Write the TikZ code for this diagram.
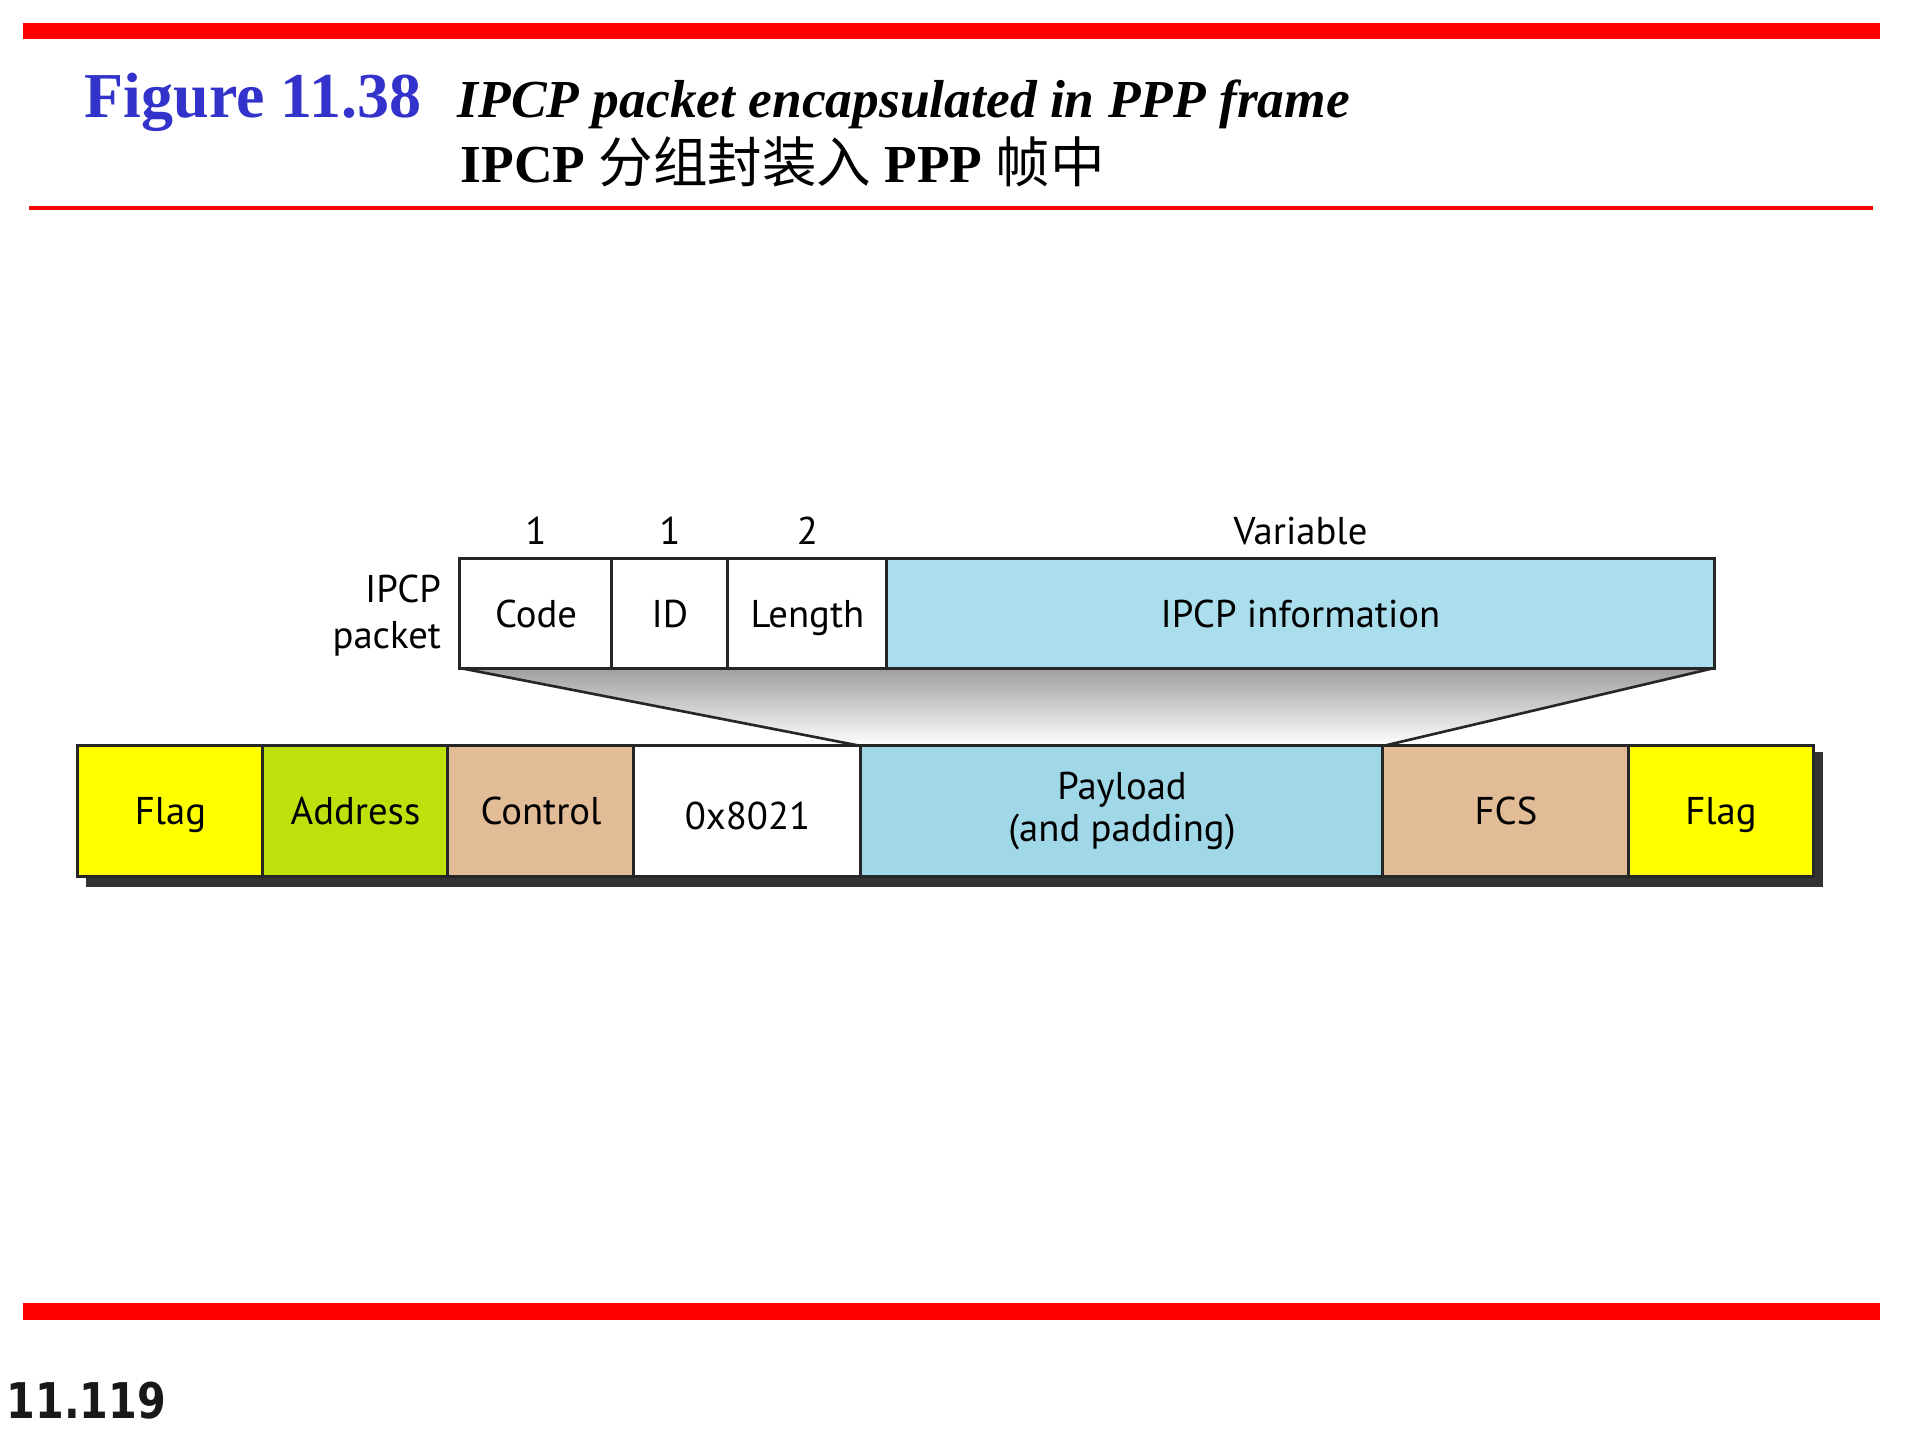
\documentclass[tikz,border=0pt]{standalone}
\usepackage{fontspec}
\setmainfont{Liberation Serif}
\newfontfamily\lbl{PT Sans}
\newfontfamily\cjk{Noto Sans CJK SC}
\newfontfamily\pgnum{DejaVu Sans}
\usetikzlibrary{backgrounds}
\definecolor{figblue}{RGB}{51,51,204}
\definecolor{flagy}{RGB}{255,255,0}
\definecolor{addrg}{RGB}{192,224,14}
\definecolor{tanc}{RGB}{226,188,150}
\definecolor{infob}{RGB}{170,222,236}
\definecolor{payb}{RGB}{160,216,232}
\definecolor{edgec}{RGB}{38,38,38}
\definecolor{shadowc}{RGB}{51,51,51}
\tikzset{
  lblfont/.style={font=\lbl\fontsize{11pt}{13pt}\selectfont},
  cell/.style={draw=edgec, line width=0.85pt, rectangle, inner sep=0pt, outer sep=0pt,
    lblfont, text height=7.7pt, text depth=0pt},
  upcell/.style={cell, minimum height=1.09cm},
  lowcell/.style={cell, minimum height=1.30cm},
  lbltext/.style={lblfont, inner sep=0pt, outer sep=0pt},
  slant/.style={draw=edgec, line width=0.75pt},
}
\begin{document}
\begin{tikzpicture}[x=0.01cm,y=-0.01cm]
\useasboundingbox (0,0) rectangle (1920,1440);
% red rules
\fill[red] (23,23) rectangle (1880,39);
\fill[red] (29,206) rectangle (1873,210);
\fill[red] (23,1303) rectangle (1880,1320);
% title
\node[anchor=base west, inner sep=0pt, text=figblue, font=\bfseries\fontsize{18.2pt}{20pt}\selectfont] (fig) at (84,118) {Figure 11.38};
\node[anchor=base west, inner sep=0pt, font=\bfseries\itshape\fontsize{15.2pt}{18pt}\selectfont] (ten) at (457,118) {IPCP packet encapsulated in PPP frame};
\node[anchor=base west, inner sep=0pt, font=\bfseries\fontsize{15.2pt}{18pt}\selectfont] (tzh) at (460,183) {IPCP {\cjk\mdseries\fontsize{15.5pt}{18pt}\selectfont 分组封装入} PPP {\cjk\mdseries\fontsize{15.5pt}{18pt}\selectfont 帧中}};
% IPCP packet
\node[upcell, fill=white, minimum width=1.52cm] (code) at (536,613.5) {Code};
\node[upcell, fill=white, minimum width=1.16cm] (id) at (670,613.5) {ID};
\node[upcell, fill=white, minimum width=1.59cm] (len) at (807.5,613.5) {Length};
\node[upcell, fill=infob, minimum width=8.27cm] (info) at (1300.5,613.5) {IPCP information};
\node[lbltext, anchor=base] (s1) at (536,545) {1};
\node[lbltext, anchor=base] (s2) at (670,545) {1};
\node[lbltext, anchor=base] (s3) at (807.5,545) {2};
\node[lbltext, anchor=base] (s4) at (1300.5,545) {Variable};
\node[lbltext, anchor=base east, align=right, font=\lbl\fontsize{11pt}{13.1pt}\selectfont] (pk) at (441,649) {IPCP\\packet};
% PPP frame
\node[lowcell, fill=flagy, minimum width=1.85cm] (flag1) at (170.5,811) {Flag};
\node[lowcell, fill=addrg, minimum width=1.85cm] (addr) at (355.5,811) {Address};
\node[lowcell, fill=tanc, minimum width=1.86cm] (ctrl) at (541,811) {Control};
\node[lowcell, fill=white, minimum width=2.27cm, text height=10.8pt] (proto) at (747.5,811) {0x8021};
\node[lowcell, fill=payb, minimum width=5.22cm] (pay) at (1122,811) {};
\node[lowcell, fill=tanc, minimum width=2.46cm] (fcs) at (1506,811) {FCS};
\node[lowcell, fill=flagy, minimum width=1.84cm] (flag2) at (1721,811) {Flag};
\node[lbltext, anchor=base, align=center, font=\lbl\fontsize{11pt}{12pt}\selectfont] (payt) at (1122,842) {Payload\\(and padding)};
% page number
\node[anchor=base west, inner sep=0pt, text=black!90, font=\pgnum\bfseries\fontsize{14pt}{16pt}\selectfont] (pg) at (6,1419) {\scalebox{0.84}[1]{11.119}};
\begin{scope}[on background layer]
  \fill[white] (0,0) rectangle (1920,1440);
  \fill[shadowc] ([xshift=0.08cm,yshift=-0.06cm]flag1.north west) rectangle ([xshift=0.10cm,yshift=-0.11cm]flag2.south east);
  \shade[top color=black!38, bottom color=white] (code.south west) -- (info.south east) -- (pay.north east) -- (pay.north west) -- cycle;
  \draw[slant] (code.south west) -- (pay.north west);
  \draw[slant] (info.south east) -- (pay.north east);
\end{scope}
\end{tikzpicture}
\end{document}
